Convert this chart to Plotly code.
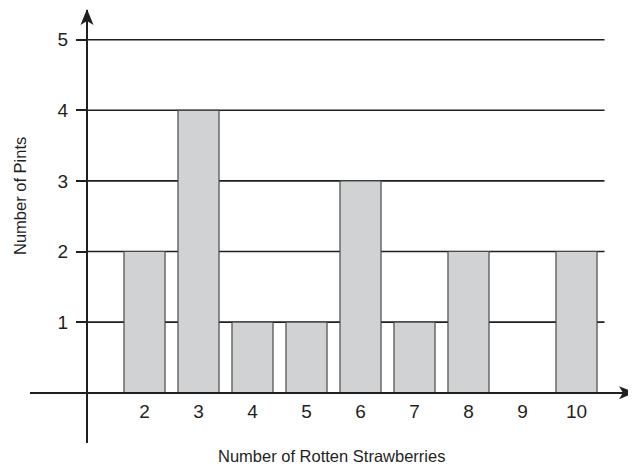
import plotly.graph_objects as go

# ---- data ----
rotten_strawberries = [2, 3, 4, 5, 6, 7, 8, 9, 10]
number_of_pints = [2, 4, 1, 1, 3, 1, 2, 0, 2]
y_ticks = [1, 2, 3, 4, 5]
x_title = "Number of Rotten Strawberries"
y_title = "Number of Pints"

# ---- geometry (window pixels; page body has an 8px margin) ----
OFF = 8
W, H = 636 - OFF, 466 - OFF
# plot area in window pixels
PX0, PX1, PY0, PY1 = 30, 634, 10, 443
L, R, T, B = PX0 - OFF, (W + OFF) - PX1, PY0 - OFF, (H + OFF) - PY1
x0_px, x_step = 36.5, 54.0      # window pixel of x=0, pixels per unit
y0_px, y_step = 392.7, 70.6     # window pixel of y=0, pixels per unit
yaxis_px = 87.0

pw, ph = PX1 - PX0, PY1 - PY0
def xd(px): return (px - x0_px) / x_step
def yd(py): return (y0_px - py) / y_step
def xp(px): return (px - PX0) / pw
def yp(py): return (PY1 - py) / ph

ink = "#1f1f1f"

fig = go.Figure()
fig.add_trace(go.Bar(
    x=rotten_strawberries, y=number_of_pints, width=0.76,
    marker=dict(color="#d1d2d4", line=dict(color="#4a4a4a", width=1.2)),
    hoverinfo="skip",
))

shapes = []
for v in y_ticks:
    shapes.append(dict(type="line", xref="x", yref="y", x0=xd(yaxis_px), x1=xd(604.5),
                       y0=v, y1=v, line=dict(color=ink, width=1.6), layer="below"))
# arrowheads
shapes.append(dict(type="path", xref="paper", yref="paper", fillcolor=ink, line=dict(width=0),
                   path=f"M {xp(yaxis_px)} {yp(9)} L {xp(yaxis_px-6.5)} {yp(25)} L {xp(yaxis_px)} {yp(21)} L {xp(yaxis_px+6.5)} {yp(25)} Z"))
shapes.append(dict(type="path", xref="paper", yref="paper", fillcolor=ink, line=dict(width=0),
                   path=f"M {xp(635)} {yp(y0_px)} L {xp(619)} {yp(y0_px-6.5)} L {xp(623)} {yp(y0_px)} L {xp(619)} {yp(y0_px+6.5)} Z"))

fig.update_layout(
    width=W, height=H, margin=dict(l=L, r=R, t=T, b=B, pad=0, autoexpand=False),
    paper_bgcolor="white", plot_bgcolor="white", showlegend=False,
    font=dict(family="Liberation Sans, Arial, sans-serif", color=ink),
    shapes=shapes,
    xaxis=dict(range=[xd(PX0), xd(PX1)], anchor="free", position=yp(y0_px), automargin=False,
               tickvals=rotten_strawberries, ticktext=[str(v) for v in rotten_strawberries],
               showgrid=False, zeroline=False, showline=True, linecolor=ink, linewidth=2,
               ticks="outside", ticklen=1, tickcolor="rgba(0,0,0,0)",
               tickfont=dict(size=19, color=ink)),
    yaxis=dict(range=[yd(PY1), yd(PY0)], anchor="free", position=xp(yaxis_px), automargin=False,
               tickvals=y_ticks, ticktext=[str(v) for v in y_ticks],
               showgrid=False, zeroline=False, showline=True, linecolor=ink, linewidth=2,
               ticks="outside", ticklen=10, tickwidth=1.6, tickcolor=ink,
               ticklabelstandoff=4,
               tickfont=dict(size=19, color=ink)),
    annotations=[
        dict(text=x_title, xref="paper", yref="paper", x=xp(331), y=yp(456),
             xanchor="center", yanchor="middle", showarrow=False, font=dict(size=16.5, color=ink)),
        dict(text=y_title, xref="paper", yref="paper", x=xp(20), y=yp(196),
             xanchor="center", yanchor="middle", showarrow=False, textangle=-90,
             font=dict(size=16.5, color=ink)),
    ],
)

fig.write_html("out.html")
